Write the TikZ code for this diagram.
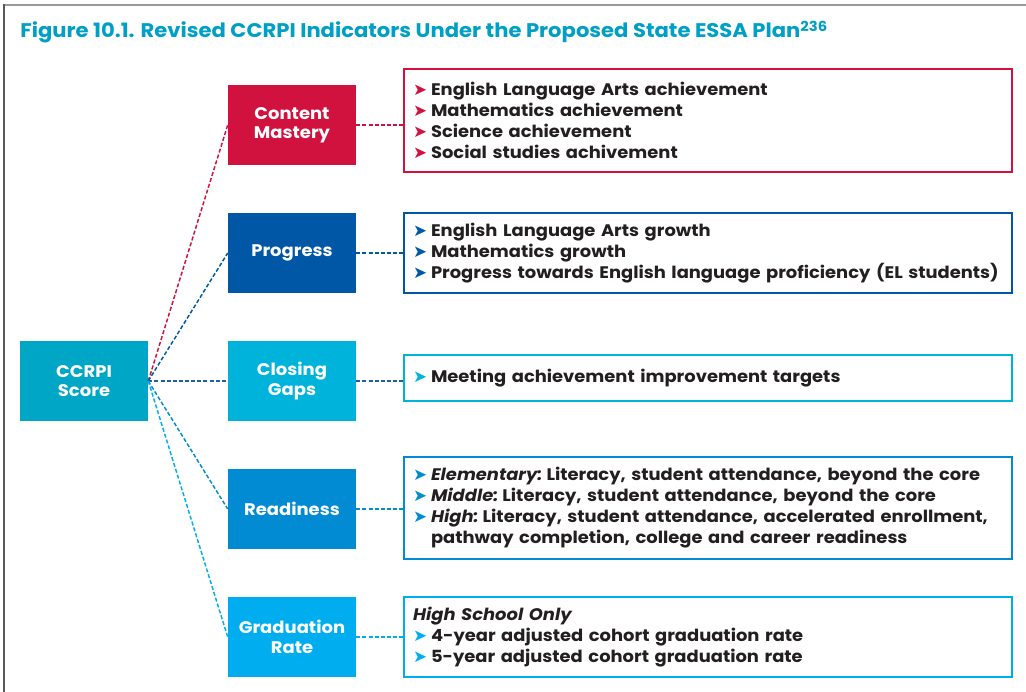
\documentclass[tikz,border=0pt]{standalone}
\usepackage{fontspec}
\setmainfont[FakeStretch=1.07]{Poppins}
\newfontfamily\symfont{DejaVu Sans}
\definecolor{titleteal}{HTML}{00A0C6}
\definecolor{scoreteal}{HTML}{00A6C6}
\definecolor{cmred}{HTML}{D1123F}
\definecolor{progblue}{HTML}{0057A6}
\definecolor{gapcyan}{HTML}{00B3DB}
\definecolor{gapline}{HTML}{1F5FAA}
\definecolor{readyblue}{HTML}{008BD2}
\definecolor{gradblue}{HTML}{00AEEF}
\definecolor{bodytext}{HTML}{231F20}
\newcommand\bul[1]{\makebox[13.5pt][l]{\symfont\color{#1}➤}}
\newcommand\hang{\hspace*{13.5pt}}
\newcommand\lvl[1]{{\itshape #1:}\kern-1.2pt\ }
\tikzset{
  catbox/.style={minimum width=96pt, minimum height=60pt, inner sep=0pt, text=white,
    align=center, font=\bfseries\fontsize{12.6}{14.6}\selectfont},
  listbox/.style={draw, line width=1.5pt, minimum width=456pt, inner xsep=6.75pt, inner ysep=0pt,
    text width=442.5pt, align=left, text=bodytext, font=\bfseries\fontsize{12.55}{15.75}\selectfont},
  link/.style={dashed, dash pattern=on 3pt off 1.6pt, line width=1.1pt}
}
\begin{document}
\begin{tikzpicture}[x=0.75pt, y=-0.75pt]
  \useasboundingbox (0,0) rectangle (1026,692);
  \draw[black!40, line width=1.5pt] (4,5) -- (1026,5);
  \draw[black!65, line width=1.5pt] (4,4) -- (4,692);
  \node (title) [anchor=base west, inner sep=0pt, text=titleteal, font=\bfseries\fontsize{14.8}{18}\selectfont]
    at (20,38) {Figure 10.1. Revised CCRPI Indicators Under the Proposed State ESSA Plan\textsuperscript{236}};

  \node[catbox, fill=scoreteal] (score) at (84,381) {CCRPI\\Score};
  \node[catbox, fill=cmred] (content) at (292,125) {Content\\Mastery};
  \node[catbox, fill=progblue] (progress) at (292,253) {Progress};
  \node[catbox, fill=gapcyan] (gaps) at (292,381) {Closing\\Gaps};
  \node[catbox, fill=readyblue] (ready) at (292,509) {Readiness};
  \node[catbox, fill=gradblue] (grad) at (292,637) {Graduation\\Rate};

  \node[listbox, draw=cmred, minimum height=77.25pt] (contentlist) at (708,120.5)
    {\bul{cmred}English Language Arts achievement\\
     \bul{cmred}Mathematics achievement\\
     \bul{cmred}Science achievement\\
     \bul{cmred}Social studies achivement};
  \node[listbox, draw=progblue, minimum height=60pt] (progresslist) at (708,253)
    {\bul{progblue}English Language Arts growth\\
     \bul{progblue}Mathematics growth\\
     \mbox{\bul{progblue}Progress towards English language proficiency (EL students)}};
  \node[listbox, draw=gapcyan, minimum height=34.5pt] (gapslist) at (708,378)
    {\bul{gapcyan}Meeting achievement improvement targets};
  \node[listbox, draw=readyblue, minimum height=76.5pt] (readylist) at (708,508)
    {\bul{readyblue}\lvl{Elementary}Literacy, student attendance, beyond the core\\
     \bul{readyblue}\lvl{Middle}Literacy, student attendance, beyond the core\\
     \bul{readyblue}\lvl{High}Literacy, student attendance, accelerated enrollment,\\
     \hang pathway completion, college and career readiness};
  \node[listbox, draw=gradblue, minimum height=60pt] (gradlist) at (708,637)
    {{\itshape High School Only}\\
     \bul{gradblue}4-year adjusted cohort graduation rate\\
     \bul{gradblue}5-year adjusted cohort graduation rate};

  \draw[link, cmred] (score.east) -- (content.west);
  \draw[link, progblue] (score.east) -- (progress.west);
  \draw[link, gapline] (score.east) -- (gaps.west);
  \draw[link, readyblue] (score.east) -- (ready.west);
  \draw[link, gradblue] (score.east) -- (grad.west);
  \draw[link, cmred] (content.east) -- (content.east -| contentlist.west);
  \draw[link, progblue] (progress.east) -- (progress.east -| progresslist.west);
  \draw[link, gapline] (gaps.east) -- (gaps.east -| gapslist.west);
  \draw[link, readyblue] (ready.east) -- (ready.east -| readylist.west);
  \draw[link, gradblue] (grad.east) -- (grad.east -| gradlist.west);
\end{tikzpicture}
\end{document}
